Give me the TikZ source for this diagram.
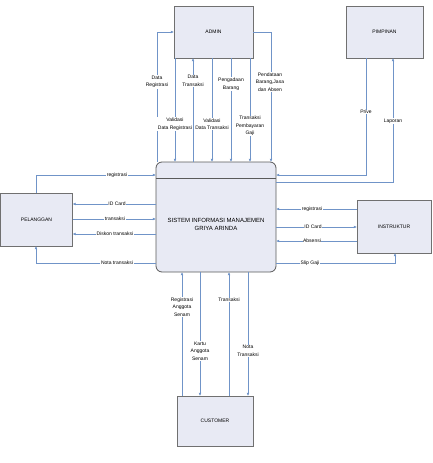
\documentclass[tikz,border=0pt]{standalone}
\usepackage{fontspec}
\setmainfont{Liberation Sans}
\usetikzlibrary{arrows.meta}
\definecolor{boxfill}{HTML}{E8EAF4}
\definecolor{boxline}{HTML}{707070}
\definecolor{flowc}{HTML}{7094C8}
\tikzset{
  ent/.style={draw=boxline, fill=boxfill, line width=0.8pt, inner sep=0pt, outer sep=0pt,
    font=\fontsize{5}{6}\selectfont, align=center},
  sysbox/.style={draw=boxline!80!black, fill=boxfill, line width=0.8pt, rounded corners=6pt,
    inner sep=0pt, outer sep=0pt, minimum width=120pt, minimum height=110pt},
  flow/.style={draw=flowc, line width=0.6pt, -{Latex[length=3.2pt,width=2.8pt]}},
  lab/.style={fill=white, inner sep=0.6pt, font=\fontsize{5}{7.5}\selectfont, align=center}
}
\begin{document}
\begin{tikzpicture}[x=1pt,y=-1pt]
\useasboundingbox (0,0) rectangle (432,463);
% entities
\node[ent, minimum width=79pt, minimum height=52pt] (admin) at (213.5,32) {ADMIN};
\node[ent, minimum width=77pt, minimum height=52pt] (pimpinan) at (384.5,32) {PIMPINAN};
\node[ent, minimum width=72pt, minimum height=53pt] (pelanggan) at (36.5,219.5) {PELANGGAN};
\node[ent, minimum width=74pt, minimum height=53pt] (instruktur) at (394,226.5) {INSTRUKTUR};
\node[ent, minimum width=76pt, minimum height=50pt] (customer) at (215,421) {CUSTOMER};
\node[sysbox] (sys) at (216,217) {};
\draw[draw=boxline!80!black, line width=0.8pt] (sys.west |- 0,178) -- (sys.east |- 0,178);
\node[font=\fontsize{6}{8}\selectfont, align=center] (systxt) at (216,224) {SISTEM INFORMASI MANAJEMEN\\GRIYA ARINDA};
% ADMIN flows
\draw[flow] (sys.north -| 157,0) |- (admin.west |- 0,32);
\draw[flow] (admin.south -| 175,0) -- (sys.north -| 175,0);
\draw[flow] (sys.north -| 193,0) -- (admin.south -| 193,0);
\draw[flow] (admin.south -| 212,0) -- (sys.north -| 212,0);
\draw[flow] (admin.south -| 231,0) -- (sys.north -| 231,0);
\draw[flow] (admin.south -| 250,0) -- (sys.north -| 250,0);
\draw[flow] (admin.east |- 0,32) -| (sys.north -| 271,0);
\node[lab] (l1) at (157,82) {Data\\Registrasi};
\node[lab] (l2) at (175,124) {Validasi\\Data Registrasi};
\node[lab] (l3) at (193,81) {Data\\Transaksi};
\node[lab] (l4) at (212,124) {Validasi\\Data Transaksi};
\node[lab] (l5) at (231,84) {Pengadaan\\Barang};
\node[lab] (l6) at (250,126) {Transaksi\\Pembayaran\\Gaji};
\node[lab] (l7) at (270,82) {Pendataan\\Barang,Jasa\\dan Absen};
% PIMPINAN flows
\draw[flow] (pimpinan.south -| 366,0) |- (sys.east |- 0,175);
\draw[flow] (sys.east |- 0,182) -| (pimpinan.south -| 393,0);
\node[lab] (l8) at (366,112) {Prive};
\node[lab] (l9) at (393,121) {Laporan};
% PELANGGAN flows
\draw[flow] (pelanggan.north -| 36,0) |- (sys.west |- 0,175);
\draw[flow] (sys.west |- 0,204) -- (pelanggan.east |- 0,204);
\draw[flow] (pelanggan.east |- 0,219) -- (sys.west |- 0,219);
\draw[flow] (sys.west |- 0,234) -- (pelanggan.east |- 0,234);
\draw[flow] (sys.west |- 0,263) -| (pelanggan.south -| 36,0);
\node[lab] (l10) at (117,175) {registrasi};
\node[lab] (l11) at (117,204) {ID Card};
\node[lab] (l12) at (115,219) {transaksi};
\node[lab] (l13) at (115,234) {Diskon transaksi};
\node[lab] (l14) at (117,263) {Nota transaksi};
% INSTRUKTUR flows
\draw[flow] (instruktur.west |- 0,209) -- (sys.east |- 0,209);
\draw[flow] (sys.east |- 0,227) -- (instruktur.west |- 0,227);
\draw[flow] (instruktur.west |- 0,241) -- (sys.east |- 0,241);
\draw[flow] (sys.east |- 0,263) -| (instruktur.south -| 395,0);
\node[lab] (l15) at (312,209) {registrasi};
\node[lab] (l16) at (313,227) {ID Card};
\node[lab] (l17) at (312,241) {Absensi};
\node[lab] (l18) at (310,263) {Slip Gaji};
% CUSTOMER flows
\draw[flow] (customer.north -| 182,0) -- (sys.south -| 182,0);
\draw[flow] (sys.south -| 200,0) -- (customer.north -| 200,0);
\draw[flow] (customer.north -| 229,0) -- (sys.south -| 229,0);
\draw[flow] (sys.south -| 248,0) -- (customer.north -| 248,0);
\node[lab] (l19) at (182,307) {Registrasi\\Anggota\\Senam};
\node[lab] (l20) at (200,351) {Kartu\\Anggota\\Senam};
\node[lab] (l21) at (229,300) {Transaksi};
\node[lab] (l22) at (248,351) {Nota\\Transaksi};
\end{tikzpicture}
\end{document}
